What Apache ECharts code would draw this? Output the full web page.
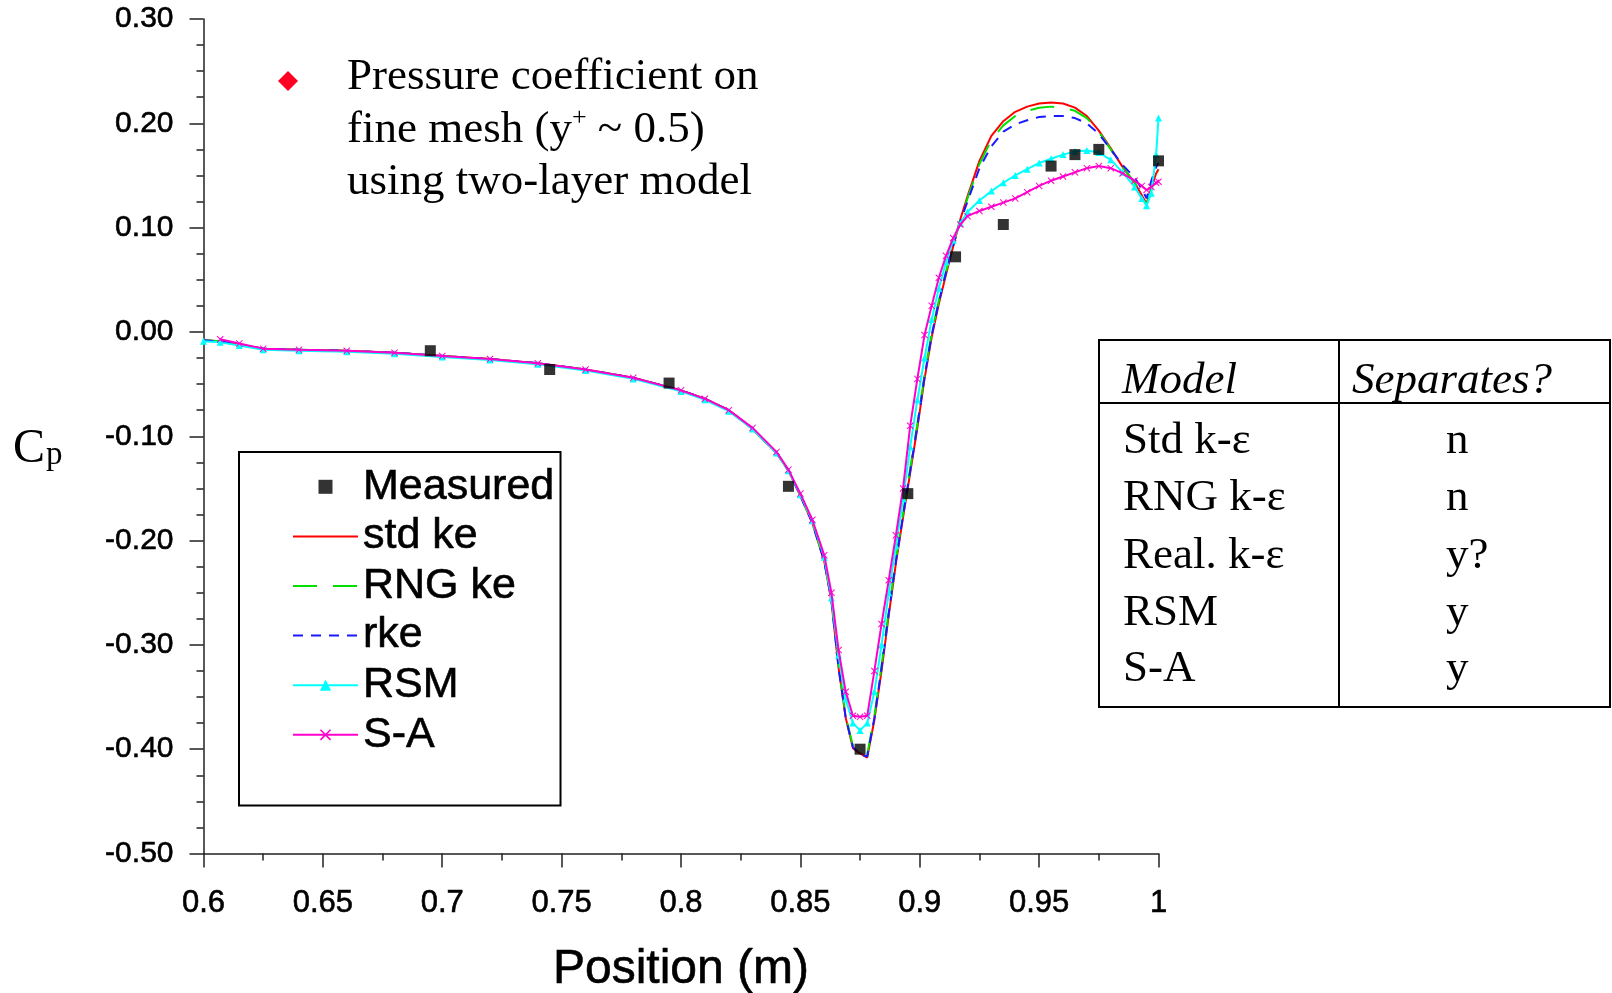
<!DOCTYPE html>
<html>
<head>
<meta charset="utf-8">
<script src="https://cdn.jsdelivr.net/npm/echarts@6/dist/echarts.min.js"></script>
<style>
  html, body { margin: 0; padding: 0; background: #fff; }
  #chart { width: 1612px; height: 993px; }
</style>
</head>
<body>
<div id="chart"></div>
<script>
// Wall position (m) shared by all model curves
const positions = [
  0.600, 0.607, 0.615, 0.625, 0.640, 0.660, 0.680, 0.700, 0.720, 0.740,
  0.760, 0.780, 0.800, 0.810, 0.820, 0.830, 0.840, 0.845, 0.850, 0.855,
  0.860, 0.863, 0.866, 0.869, 0.872, 0.875, 0.878, 0.881, 0.884, 0.887,
  0.890, 0.893, 0.896, 0.899, 0.902, 0.905, 0.908, 0.911, 0.914, 0.917,
  0.920, 0.925, 0.930, 0.935, 0.940, 0.945, 0.950, 0.955, 0.960, 0.965,
  0.970, 0.975, 0.980, 0.985, 0.990, 0.993, 0.995, 0.997, 0.999, 1.000
];

// Pressure coefficient, standard k-epsilon
const stdKe = [
  -0.008, -0.009, -0.012, -0.016, -0.017, -0.018, -0.020, -0.023, -0.026, -0.030,
  -0.036, -0.044, -0.056, -0.064, -0.075, -0.093, -0.116, -0.133, -0.157, -0.183,
  -0.220, -0.258, -0.322, -0.370, -0.399, -0.404, -0.408, -0.372, -0.325, -0.272,
  -0.222, -0.178, -0.135, -0.092, -0.045, -0.005, 0.027, 0.055, 0.082, 0.108,
  0.130, 0.164, 0.188, 0.202, 0.211, 0.216, 0.219, 0.220, 0.219, 0.215,
  0.207, 0.193, 0.176, 0.158, 0.143, 0.131, 0.123, 0.138, 0.152, 0.156
];

// RNG k-epsilon
const rngKe = [
  -0.008, -0.009, -0.012, -0.016, -0.017, -0.018, -0.020, -0.023, -0.026, -0.030,
  -0.036, -0.044, -0.056, -0.064, -0.075, -0.093, -0.116, -0.133, -0.157, -0.183,
  -0.219, -0.256, -0.320, -0.368, -0.397, -0.403, -0.405, -0.368, -0.320, -0.268,
  -0.218, -0.174, -0.131, -0.088, -0.041, -0.001, 0.030, 0.058, 0.084, 0.108,
  0.128, 0.161, 0.184, 0.198, 0.207, 0.212, 0.215, 0.216, 0.215, 0.212,
  0.205, 0.192, 0.175, 0.158, 0.143, 0.130, 0.122, 0.136, 0.150, 0.154
];

// Realizable k-epsilon
const rke = [
  -0.008, -0.009, -0.012, -0.016, -0.017, -0.018, -0.020, -0.023, -0.026, -0.030,
  -0.036, -0.044, -0.056, -0.064, -0.075, -0.093, -0.116, -0.133, -0.157, -0.183,
  -0.220, -0.257, -0.322, -0.370, -0.398, -0.405, -0.407, -0.370, -0.322, -0.270,
  -0.220, -0.176, -0.133, -0.090, -0.043, -0.003, 0.029, 0.057, 0.083, 0.106,
  0.125, 0.157, 0.178, 0.192, 0.199, 0.203, 0.206, 0.207, 0.207, 0.205,
  0.200, 0.190, 0.175, 0.160, 0.148, 0.137, 0.128, 0.145, 0.158, 0.162
];

// Reynolds stress model
const rsm = [
  -0.009, -0.010, -0.013, -0.017, -0.018, -0.019, -0.021, -0.024, -0.027, -0.031,
  -0.037, -0.045, -0.057, -0.065, -0.076, -0.093, -0.116, -0.133, -0.156, -0.181,
  -0.216, -0.255, -0.310, -0.352, -0.375, -0.382, -0.375, -0.345, -0.300, -0.250,
  -0.205, -0.160, -0.110, -0.065, -0.025, 0.012, 0.042, 0.067, 0.088, 0.104,
  0.115, 0.126, 0.135, 0.143, 0.150, 0.156, 0.162, 0.166, 0.170, 0.173,
  0.174, 0.172, 0.165, 0.153, 0.139, 0.128, 0.121, 0.133, 0.170, 0.205
];

// Spalart-Allmaras
const sa = [
  null, -0.007, -0.011, -0.016, -0.017, -0.018, -0.020, -0.023, -0.026, -0.030,
  -0.036, -0.044, -0.056, -0.064, -0.075, -0.092, -0.115, -0.132, -0.155, -0.180,
  -0.214, -0.250, -0.305, -0.345, -0.368, -0.369, -0.368, -0.325, -0.280, -0.238,
  -0.195, -0.150, -0.090, -0.045, -0.003, 0.025, 0.052, 0.073, 0.090, 0.103,
  0.111, 0.116, 0.120, 0.124, 0.128, 0.134, 0.140, 0.145, 0.149, 0.153,
  0.157, 0.159, 0.157, 0.152, 0.145, 0.140, 0.136, 0.139, 0.143, 0.144
];

// Experimental data
const measuredPos = [0.695, 0.745, 0.795, 0.845, 0.875, 0.895, 0.915, 0.935, 0.955, 0.965, 0.975, 1.000];
const measuredCp  = [-0.018, -0.036, -0.049, -0.148, -0.400, -0.155, 0.072, 0.103, 0.159, 0.170, 0.175, 0.164];

// Side table: model vs. separation
const tableModels = ['Std k-\u03b5', 'RNG k-\u03b5', 'Real. k-\u03b5', 'RSM', 'S-A'];
const tableSeparates = ['n', 'n', 'y?', 'y', 'y'];

const xTicksFmt = v => String(parseFloat(v.toFixed(2)));
const yTicksFmt = v => (Math.abs(v) < 1e-9 ? 0 : v).toFixed(2);

const toPairs = ys => positions.map((x, i) => [x, ys[i]]);
const measured = measuredPos.map((x, i) => [x, measuredCp[i]]);

const AXIS = '#222';
const SANS = 'Liberation Sans, Arial, sans-serif';
const SERIF = 'Liberation Serif, Times New Roman, serif';
const crossPath = 'path://M0,1L1,0L5,4L9,0L10,1L6,5L10,9L9,10L5,6L1,10L0,9L4,5Z';
// slightly heavier sans text, like the plotting program's raster font
const heavy = { textBorderColor: '#000', textBorderWidth: 0.6 };

const rowMid = [441, 498, 556, 613, 669];
const tableGraphics = [
  { type: 'rect', shape: { x: 1099, y: 340, width: 511, height: 367 },
    style: { fill: 'none', stroke: '#000', lineWidth: 2 } },
  { type: 'line', shape: { x1: 1339, y1: 340, x2: 1339, y2: 707 },
    style: { stroke: '#000', lineWidth: 2 } },
  { type: 'line', shape: { x1: 1099, y1: 403, x2: 1610, y2: 403 },
    style: { stroke: '#000', lineWidth: 2 } },
  { type: 'text', x: 1122, y: 381,
    style: { text: 'Model', font: 'italic 45px ' + SERIF, fill: '#000', verticalAlign: 'middle' } },
  { type: 'text', x: 1352, y: 381,
    style: { text: 'Separates?', font: 'italic 45px ' + SERIF, fill: '#000', verticalAlign: 'middle' } }
];
tableModels.forEach((m, i) => {
  tableGraphics.push({ type: 'text', x: 1123, y: rowMid[i],
    style: { text: m, font: '45px ' + SERIF, fill: '#000', verticalAlign: 'middle' } });
  tableGraphics.push({ type: 'text', x: 1446, y: rowMid[i],
    style: { text: tableSeparates[i], font: '45px ' + SERIF, fill: '#000', verticalAlign: 'middle' } });
});

const chart = echarts.init(document.getElementById('chart'), null, { renderer: 'canvas' });

chart.setOption({
  animation: false,
  backgroundColor: '#fff',
  grid: { left: 203.5, right: 453.5, top: 19, bottom: 139.5, containLabel: false, outerBoundsMode: 'none' },
  xAxis: {
    type: 'value', min: 0.6, max: 1, interval: 0.05,
    axisLine: { show: true, onZero: false, lineStyle: { color: AXIS, width: 1.5 } },
    axisTick: { show: true, length: 14, lineStyle: { color: AXIS, width: 1.5 } },
    minorTick: { show: true, splitNumber: 2, length: 7, lineStyle: { color: AXIS, width: 1.5 } },
    splitLine: { show: false },
    axisLabel: Object.assign({ margin: 34, fontSize: 31, fontFamily: SANS, color: '#000', formatter: xTicksFmt }, heavy),
    name: 'Position (m)', nameLocation: 'middle', nameGap: 92,
    nameTextStyle: Object.assign({ fontSize: 48, fontFamily: SANS, color: '#000' }, heavy)
  },
  yAxis: {
    type: 'value', min: -0.5, max: 0.3, interval: 0.1,
    axisLine: { show: true, onZero: false, lineStyle: { color: AXIS, width: 1.5 } },
    axisTick: { show: true, length: 14, lineStyle: { color: AXIS, width: 1.5 } },
    minorTick: { show: true, splitNumber: 4, length: 7, lineStyle: { color: AXIS, width: 1.5 } },
    splitLine: { show: false },
    axisLabel: Object.assign({ margin: 30, fontSize: 30, fontFamily: SANS, color: '#000', formatter: yTicksFmt }, heavy)
  },
  legend: {
    orient: 'vertical', left: 239, top: 452,
    padding: [13, 6, 49, 53],
    itemWidth: 65, itemHeight: 14, itemGap: 6,
    borderColor: '#000', borderWidth: 2, backgroundColor: '#fff',
    textStyle: Object.assign({ fontSize: 43, fontFamily: SANS, color: '#000', lineHeight: 43 }, heavy),
    data: [
      { name: 'Measured', icon: 'path://M0,0H10V10H0Z' },
      { name: 'std ke', itemStyle: { opacity: 0 } },
      { name: 'RNG ke', itemStyle: { opacity: 0 } },
      { name: 'rke', itemStyle: { opacity: 0 } },
      'RSM', 'S-A'
    ]
  },
  series: [
    { name: 'std ke', type: 'line', data: toPairs(stdKe), symbol: 'none',
      color: '#ff0000', lineStyle: { color: '#ff0000', width: 2 }, z: 2 },
    { name: 'RNG ke', type: 'line', data: toPairs(rngKe), symbol: 'none',
      color: '#00e000', lineStyle: { color: '#00e000', width: 2, type: [24, 16] }, z: 2 },
    { name: 'rke', type: 'line', data: toPairs(rke), symbol: 'none',
      color: '#1a1aff', lineStyle: { color: '#1a1aff', width: 2, type: [10, 8] }, z: 2 },
    { name: 'RSM', type: 'line', data: toPairs(rsm), symbol: 'triangle', symbolSize: 7,
      showSymbol: true, color: '#00ffff',
      itemStyle: { color: '#00ffff' }, lineStyle: { color: '#00ffff', width: 2 }, z: 3 },
    { name: 'S-A', type: 'line', data: toPairs(sa), symbol: crossPath, symbolSize: 7,
      showSymbol: true, color: '#ff00cc',
      itemStyle: { color: '#ff00cc' }, lineStyle: { color: '#ff00cc', width: 2 }, z: 4 },
    { name: 'Measured', type: 'scatter', data: measured, symbol: 'rect', symbolSize: 11,
      itemStyle: { color: '#000' }, z: 5 }
  ],
  graphic: [
    { type: 'text', x: 13, y: 449,
      style: { text: 'C', font: '48px ' + SERIF, fill: '#000', verticalAlign: 'middle' } },
    { type: 'text', x: 46, y: 455,
      style: { text: 'p', font: '33px ' + SERIF, fill: '#000', verticalAlign: 'middle' } },
    { type: 'polygon', shape: { points: [[288, 71], [298, 81], [288, 91], [278, 81]] },
      style: { fill: '#ff0022' } },
    { type: 'text', x: 347, y: 77,
      style: { text: 'Pressure coefficient on', font: '45px ' + SERIF, fill: '#000', verticalAlign: 'middle' } },
    { type: 'text', x: 347, y: 130,
      style: {
        text: '{a|fine mesh (y}{s|+}{a| ~ 0.5)}', verticalAlign: 'middle',
        rich: {
          a: { fontSize: 45, fontFamily: SERIF, fill: '#000', lineHeight: 50 },
          s: { fontSize: 26, fontFamily: SERIF, fill: '#000', lineHeight: 50, verticalAlign: 'top' }
        }
      } },
    { type: 'text', x: 347, y: 182,
      style: { text: 'using two-layer model', font: '45px ' + SERIF, fill: '#000', verticalAlign: 'middle' } }
  ].concat(tableGraphics)
});
</script>
</body>
</html>
